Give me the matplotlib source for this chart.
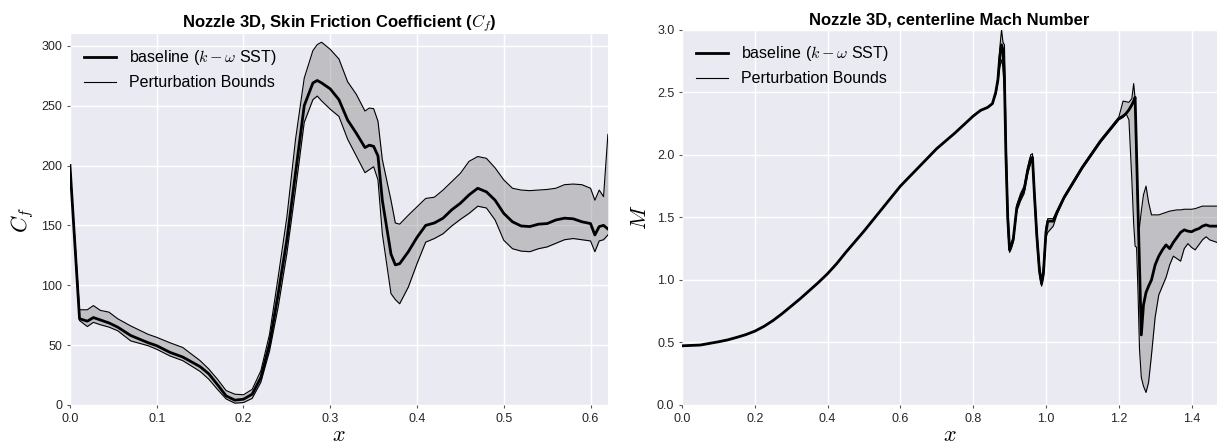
"""Nozzle 3D: skin friction and centerline Mach number with perturbation bounds."""

import matplotlib
matplotlib.use("Agg")
import matplotlib.pyplot as plt

# ---- skin friction coefficient (left panel) ----
x_cf = [0.0, 0.011, 0.02, 0.027, 0.035, 0.045, 0.055, 0.07, 0.09, 0.10,
        0.115, 0.13, 0.15, 0.16, 0.17, 0.18, 0.19, 0.20, 0.21, 0.22,
        0.23, 0.24, 0.25, 0.26, 0.27, 0.28, 0.285, 0.29, 0.30, 0.31,
        0.32, 0.33, 0.34, 0.345, 0.35, 0.355, 0.36, 0.37, 0.375, 0.38,
        0.39, 0.40, 0.41, 0.42, 0.43, 0.44, 0.45, 0.46, 0.47, 0.48,
        0.49, 0.50, 0.51, 0.52, 0.53, 0.54, 0.55, 0.56, 0.57, 0.58,
        0.59, 0.60, 0.605, 0.61, 0.615, 0.62]
cf_base = [200, 72, 70, 73, 71, 68.5, 65, 58, 52, 49.5,
           44, 40, 32, 26, 17, 7.5, 4, 4.8, 9, 23,
           51, 93, 138, 194, 250, 269, 271, 269, 264, 255,
           238, 227, 215, 217, 216, 208, 171, 126, 117, 118,
           128, 140, 150, 152, 156, 163, 168.5, 175.5, 181, 178,
           171, 160, 153, 149.5, 149, 151, 151.5, 154.5, 156, 155.5,
           153, 151.5, 142, 149, 150, 147]
cf_upper = [200, 79.5, 79.5, 83, 79, 77.5, 72, 66, 59, 56.5,
            52, 48, 37, 30, 21.5, 12, 9, 8.5, 13, 28.5,
            59, 107, 157, 222, 273, 296, 301, 303, 297, 289,
            270, 259.5, 245.5, 248, 247.5, 237, 205, 171, 152, 151,
            158.5, 165.5, 172.5, 173.5, 179.5, 186.5, 193.5, 203.5, 207.5, 206,
            198, 188, 181, 179.5, 179, 179.5, 180, 181, 184, 184.5,
            184, 181, 171, 179.5, 174, 226]
cf_lower = [200, 70.5, 65.5, 69, 67, 65, 62, 53.5, 49.5, 46.5,
            41, 37, 28, 21.5, 13, 5, 1.5, 2, 5.5, 19,
            45, 82, 126.5, 180, 236, 255, 258, 254, 247, 241,
            222, 208, 194, 196.5, 199, 188, 143, 93, 88, 84.5,
            98.5, 118, 136, 139, 143, 149.5, 155, 160, 166, 164.5,
            154.5, 137.5, 130.5, 128.5, 128, 130.5, 132, 135, 138, 139,
            138, 137, 128, 137, 138, 142]

# ---- centerline Mach number (right panel) ----
x_m = [0.0, 0.05, 0.1, 0.125, 0.15, 0.175, 0.2, 0.225, 0.25, 0.275,
       0.3, 0.325, 0.35, 0.375, 0.4, 0.425, 0.45, 0.5, 0.55, 0.6,
       0.65, 0.7, 0.75, 0.8, 0.82, 0.84, 0.853,
       0.862, 0.868, 0.873, 0.878, 0.882, 0.886, 0.89, 0.895, 0.9, 0.905,
       0.91, 0.92, 0.93, 0.94, 0.95, 0.958, 0.963, 0.968, 0.975, 0.982,
       0.988, 0.993, 1.0, 1.005, 1.02, 1.03, 1.05, 1.1, 1.15, 1.2,
       1.212, 1.22, 1.228, 1.236, 1.241, 1.245, 1.249, 1.253, 1.257, 1.262,
       1.268, 1.275, 1.282, 1.29, 1.3, 1.31, 1.32, 1.33, 1.34, 1.35,
       1.36, 1.37, 1.38, 1.39, 1.40, 1.41, 1.42, 1.43, 1.44, 1.45,
       1.47]
m_base = [0.473, 0.479, 0.505, 0.52, 0.54, 0.562, 0.59, 0.628, 0.675, 0.73,
          0.79, 0.85, 0.915, 0.98, 1.05, 1.13, 1.22, 1.39, 1.57, 1.75,
          1.90, 2.05, 2.175, 2.31, 2.355, 2.38, 2.41,
          2.5, 2.6, 2.78, 2.88, 2.84, 2.6, 2.0, 1.5, 1.24, 1.28,
          1.32, 1.58, 1.66, 1.72, 1.88, 1.97, 1.98, 1.7, 1.35, 1.08,
          0.97, 1.05, 1.38, 1.47, 1.47, 1.54, 1.66, 1.90, 2.11, 2.29,
          2.31, 2.33, 2.36, 2.40, 2.43, 2.46, 2.01, 1.56, 1.12, 0.56,
          0.8, 0.9, 0.95, 1.0, 1.12, 1.19, 1.24, 1.28, 1.25, 1.30,
          1.34, 1.38, 1.40, 1.39, 1.385, 1.40, 1.41, 1.43, 1.44, 1.43,
          1.43]
m_upper = [0.473, 0.479, 0.505, 0.52, 0.54, 0.562, 0.59, 0.628, 0.675, 0.73,
           0.79, 0.85, 0.915, 0.98, 1.05, 1.13, 1.22, 1.39, 1.57, 1.75,
           1.90, 2.05, 2.175, 2.31, 2.355, 2.38, 2.41,
           2.5, 2.62, 2.85, 3.0, 2.9, 2.88, 2.2, 1.6, 1.27, 1.3,
           1.34, 1.6, 1.69, 1.75, 1.9, 2.0, 2.01, 1.75, 1.4, 1.12,
           1.0, 1.1, 1.42, 1.49, 1.49, 1.55, 1.67, 1.91, 2.12, 2.30,
           2.43, 2.425, 2.42, 2.45, 2.57, 2.45, 1.9, 1.45, 1.42, 1.55,
           1.68, 1.75, 1.62, 1.52, 1.52, 1.52, 1.53, 1.54, 1.55, 1.555,
           1.56, 1.56, 1.565, 1.565, 1.565, 1.57, 1.58, 1.59, 1.59, 1.59,
           1.59]
m_lower = [0.473, 0.479, 0.505, 0.52, 0.54, 0.562, 0.59, 0.628, 0.675, 0.73,
           0.79, 0.85, 0.915, 0.98, 1.05, 1.13, 1.22, 1.39, 1.57, 1.75,
           1.90, 2.05, 2.175, 2.31, 2.355, 2.38, 2.41,
           2.48, 2.58, 2.7, 2.76, 2.7, 2.5, 1.9, 1.4, 1.22, 1.25,
           1.3, 1.55, 1.63, 1.69, 1.85, 1.93, 1.95, 1.65, 1.3, 1.04,
           0.95, 1.02, 1.34, 1.38, 1.43, 1.52, 1.65, 1.89, 2.10, 2.28,
           2.3, 2.33, 2.28, 1.8, 1.45, 1.27, 1.26, 0.9, 0.45, 0.22,
           0.15, 0.1, 0.18, 0.4, 0.7, 0.88, 0.95, 1.02, 1.12, 1.19,
           1.17, 1.15, 1.25, 1.29, 1.26, 1.24, 1.28, 1.32, 1.345, 1.32,
           1.30]

plt.rcParams.update({
    "font.family": ["Liberation Sans", "DejaVu Sans"],
    "mathtext.fontset": "cm",
    "axes.facecolor": "#EAEAF2",
    "axes.edgecolor": "white",
    "axes.linewidth": 0,
    "axes.grid": True,
    "grid.color": "white",
    "grid.linewidth": 1.0,
    "xtick.color": "#555555",
    "ytick.color": "#555555",
    "xtick.labelcolor": "#262626",
    "ytick.labelcolor": "#262626",
    "xtick.major.size": 2,
    "ytick.major.size": 2,
    "xtick.labelsize": 9,
    "ytick.labelsize": 9,
})

fig = plt.figure(figsize=(12.17, 4.45), dpi=100)
ax1 = fig.add_axes([0.0575, 0.090, 0.442, 0.834])
ax2 = fig.add_axes([0.5604, 0.090, 0.4396, 0.843])


def draw(ax, x, base, upper, lower):
    ax.fill_between(x, lower, upper, color="gray", alpha=0.4, linewidth=0)
    ax.plot(x, base, color="black", lw=2, label=r"baseline ($k-\omega$ SST)")
    ax.plot(x, upper, color="black", lw=0.8, label="Perturbation Bounds")
    ax.plot(x, lower, color="black", lw=0.8)
    ax.set_axisbelow(True)
    ax.legend(loc="upper left", frameon=False, fontsize=11.5)
    ax.set_xlabel(r"$x$", fontsize=16, labelpad=0)


draw(ax1, x_cf, cf_base, cf_upper, cf_lower)
ax1.set_xlim(0, 0.62)
ax1.set_ylim(0, 310)
ax1.set_ylabel(r"$C_f$", fontsize=16)
ax1.set_title(r"Nozzle 3D, Skin Friction Coefficient ($C_f$)",
              fontsize=12, fontweight="bold", pad=4)

draw(ax2, x_m, m_base, m_upper, m_lower)
ax2.set_xlim(0, 1.47)
ax2.set_ylim(0, 3.0)
ax2.set_yticks([0.0, 0.5, 1.0, 1.5, 2.0, 2.5, 3.0])
ax2.set_ylabel(r"$M$", fontsize=16)
ax2.set_title("Nozzle 3D, centerline Mach Number",
              fontsize=12, fontweight="bold", pad=4)

fig.savefig("out.png", dpi=100)
plt.close(fig)
